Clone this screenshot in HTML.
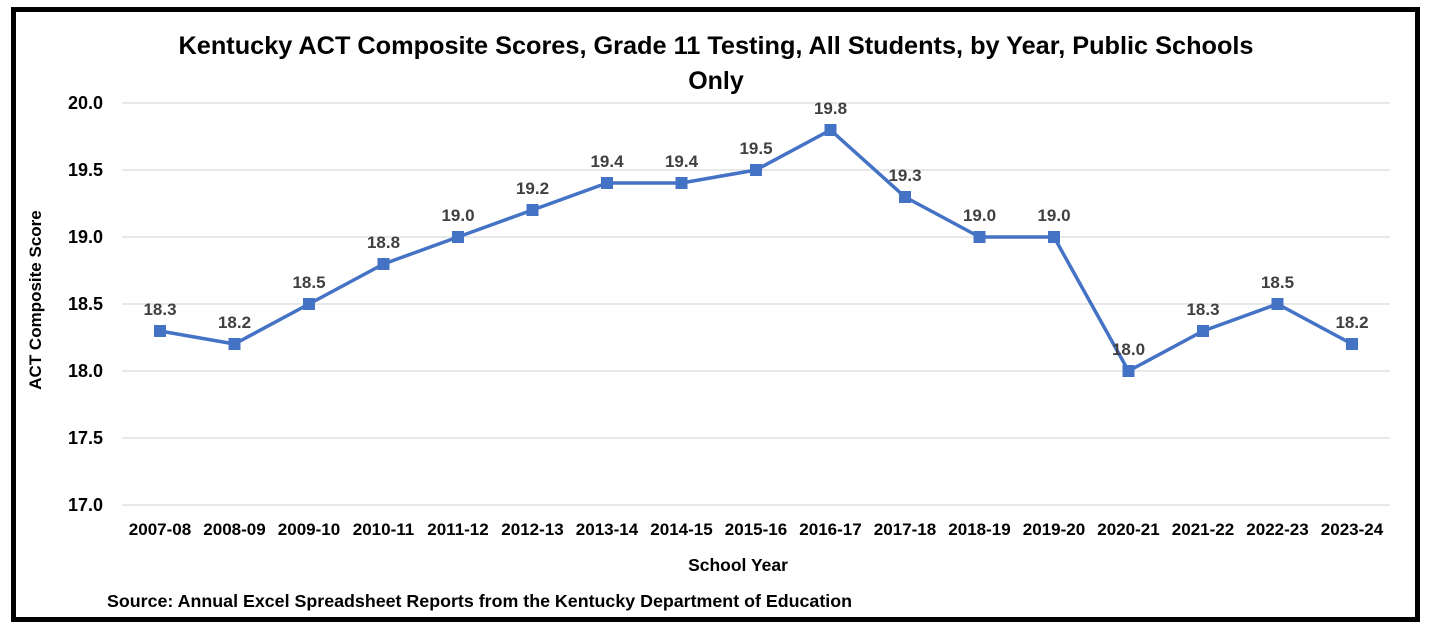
<!DOCTYPE html>
<html><head><meta charset="utf-8"><style>
body{margin:0;background:#fff;}
svg text{font-family:"Liberation Sans",sans-serif;font-weight:bold;}
</style></head><body>
<svg width="1431" height="631" xmlns="http://www.w3.org/2000/svg">
<rect x="0" y="0" width="1431" height="631" fill="#fff"/>
<rect x="13.5" y="9.5" width="1404" height="610" fill="none" stroke="#000" stroke-width="5"/>
<text x="716" y="54" font-size="25" text-anchor="middle" fill="#000" textLength="1075" lengthAdjust="spacingAndGlyphs">Kentucky ACT Composite Scores, Grade 11 Testing, All Students, by Year, Public Schools</text>
<text x="716" y="89" font-size="25" text-anchor="middle" fill="#000">Only</text>
<g stroke="#d9d9d9" stroke-width="1.3">
<line x1="122" x2="1390" y1="103" y2="103"/><line x1="122" x2="1390" y1="170" y2="170"/>
<line x1="122" x2="1390" y1="237" y2="237"/><line x1="122" x2="1390" y1="304" y2="304"/>
<line x1="122" x2="1390" y1="371" y2="371"/><line x1="122" x2="1390" y1="438" y2="438"/>
<line x1="122" x2="1390" y1="505" y2="505"/>
</g>
<g font-size="18" text-anchor="end" fill="#000">
<text x="103" y="109">20.0</text><text x="103" y="176">19.5</text><text x="103" y="243">19.0</text>
<text x="103" y="310">18.5</text><text x="103" y="377">18.0</text><text x="103" y="444">17.5</text><text x="103" y="511">17.0</text>
</g>
<text transform="translate(41,300) rotate(-90)" font-size="17" text-anchor="middle">ACT Composite Score</text>
<g font-size="17" text-anchor="middle" fill="#000">
<text x="160" y="535">2007-08</text><text x="234.5" y="535">2008-09</text><text x="309" y="535">2009-10</text>
<text x="383.5" y="535">2010-11</text><text x="458" y="535">2011-12</text><text x="532.5" y="535">2012-13</text>
<text x="607" y="535">2013-14</text><text x="681.5" y="535">2014-15</text><text x="756" y="535">2015-16</text>
<text x="830.5" y="535">2016-17</text><text x="905" y="535">2017-18</text><text x="979.5" y="535">2018-19</text>
<text x="1054" y="535">2019-20</text><text x="1128.5" y="535">2020-21</text><text x="1203" y="535">2021-22</text>
<text x="1277.5" y="535">2022-23</text><text x="1352" y="535">2023-24</text>
</g>
<text x="738" y="571" font-size="17.5" text-anchor="middle">School Year</text>
<text x="107" y="607" font-size="17.5" textLength="745" lengthAdjust="spacingAndGlyphs">Source: Annual Excel Spreadsheet Reports from the Kentucky Department of Education</text>
<polyline fill="none" stroke="#4472c4" stroke-width="3.5" stroke-linejoin="round" points="160,331 234.5,344 309,304 383.5,264 458,237 532.5,210 607,183 681.5,183 756,170 830.5,130 905,197 979.5,237 1054,237 1128.5,371 1203,331 1277.5,304 1352,344"/>
<g fill="#4472c4">
<rect x="154" y="325" width="12" height="12"/><rect x="228.5" y="338" width="12" height="12"/><rect x="303" y="298" width="12" height="12"/>
<rect x="377.5" y="258" width="12" height="12"/><rect x="452" y="231" width="12" height="12"/><rect x="526.5" y="204" width="12" height="12"/>
<rect x="601" y="177" width="12" height="12"/><rect x="675.5" y="177" width="12" height="12"/><rect x="750" y="164" width="12" height="12"/>
<rect x="824.5" y="124" width="12" height="12"/><rect x="899" y="191" width="12" height="12"/><rect x="973.5" y="231" width="12" height="12"/>
<rect x="1048" y="231" width="12" height="12"/><rect x="1122.5" y="365" width="12" height="12"/><rect x="1197" y="325" width="12" height="12"/>
<rect x="1271.5" y="298" width="12" height="12"/><rect x="1346" y="338" width="12" height="12"/>
</g>
<g font-size="17" text-anchor="middle" fill="#404040">
<text x="160" y="315">18.3</text><text x="234.5" y="328">18.2</text><text x="309" y="288">18.5</text>
<text x="383.5" y="248">18.8</text><text x="458" y="221">19.0</text><text x="532.5" y="194">19.2</text>
<text x="607" y="167">19.4</text><text x="681.5" y="167">19.4</text><text x="756" y="154">19.5</text>
<text x="830.5" y="114">19.8</text><text x="905" y="181">19.3</text><text x="979.5" y="221">19.0</text>
<text x="1054" y="221">19.0</text><text x="1128.5" y="355">18.0</text><text x="1203" y="315">18.3</text>
<text x="1277.5" y="288">18.5</text><text x="1352" y="328">18.2</text>
</g>
</svg>
</body></html>
